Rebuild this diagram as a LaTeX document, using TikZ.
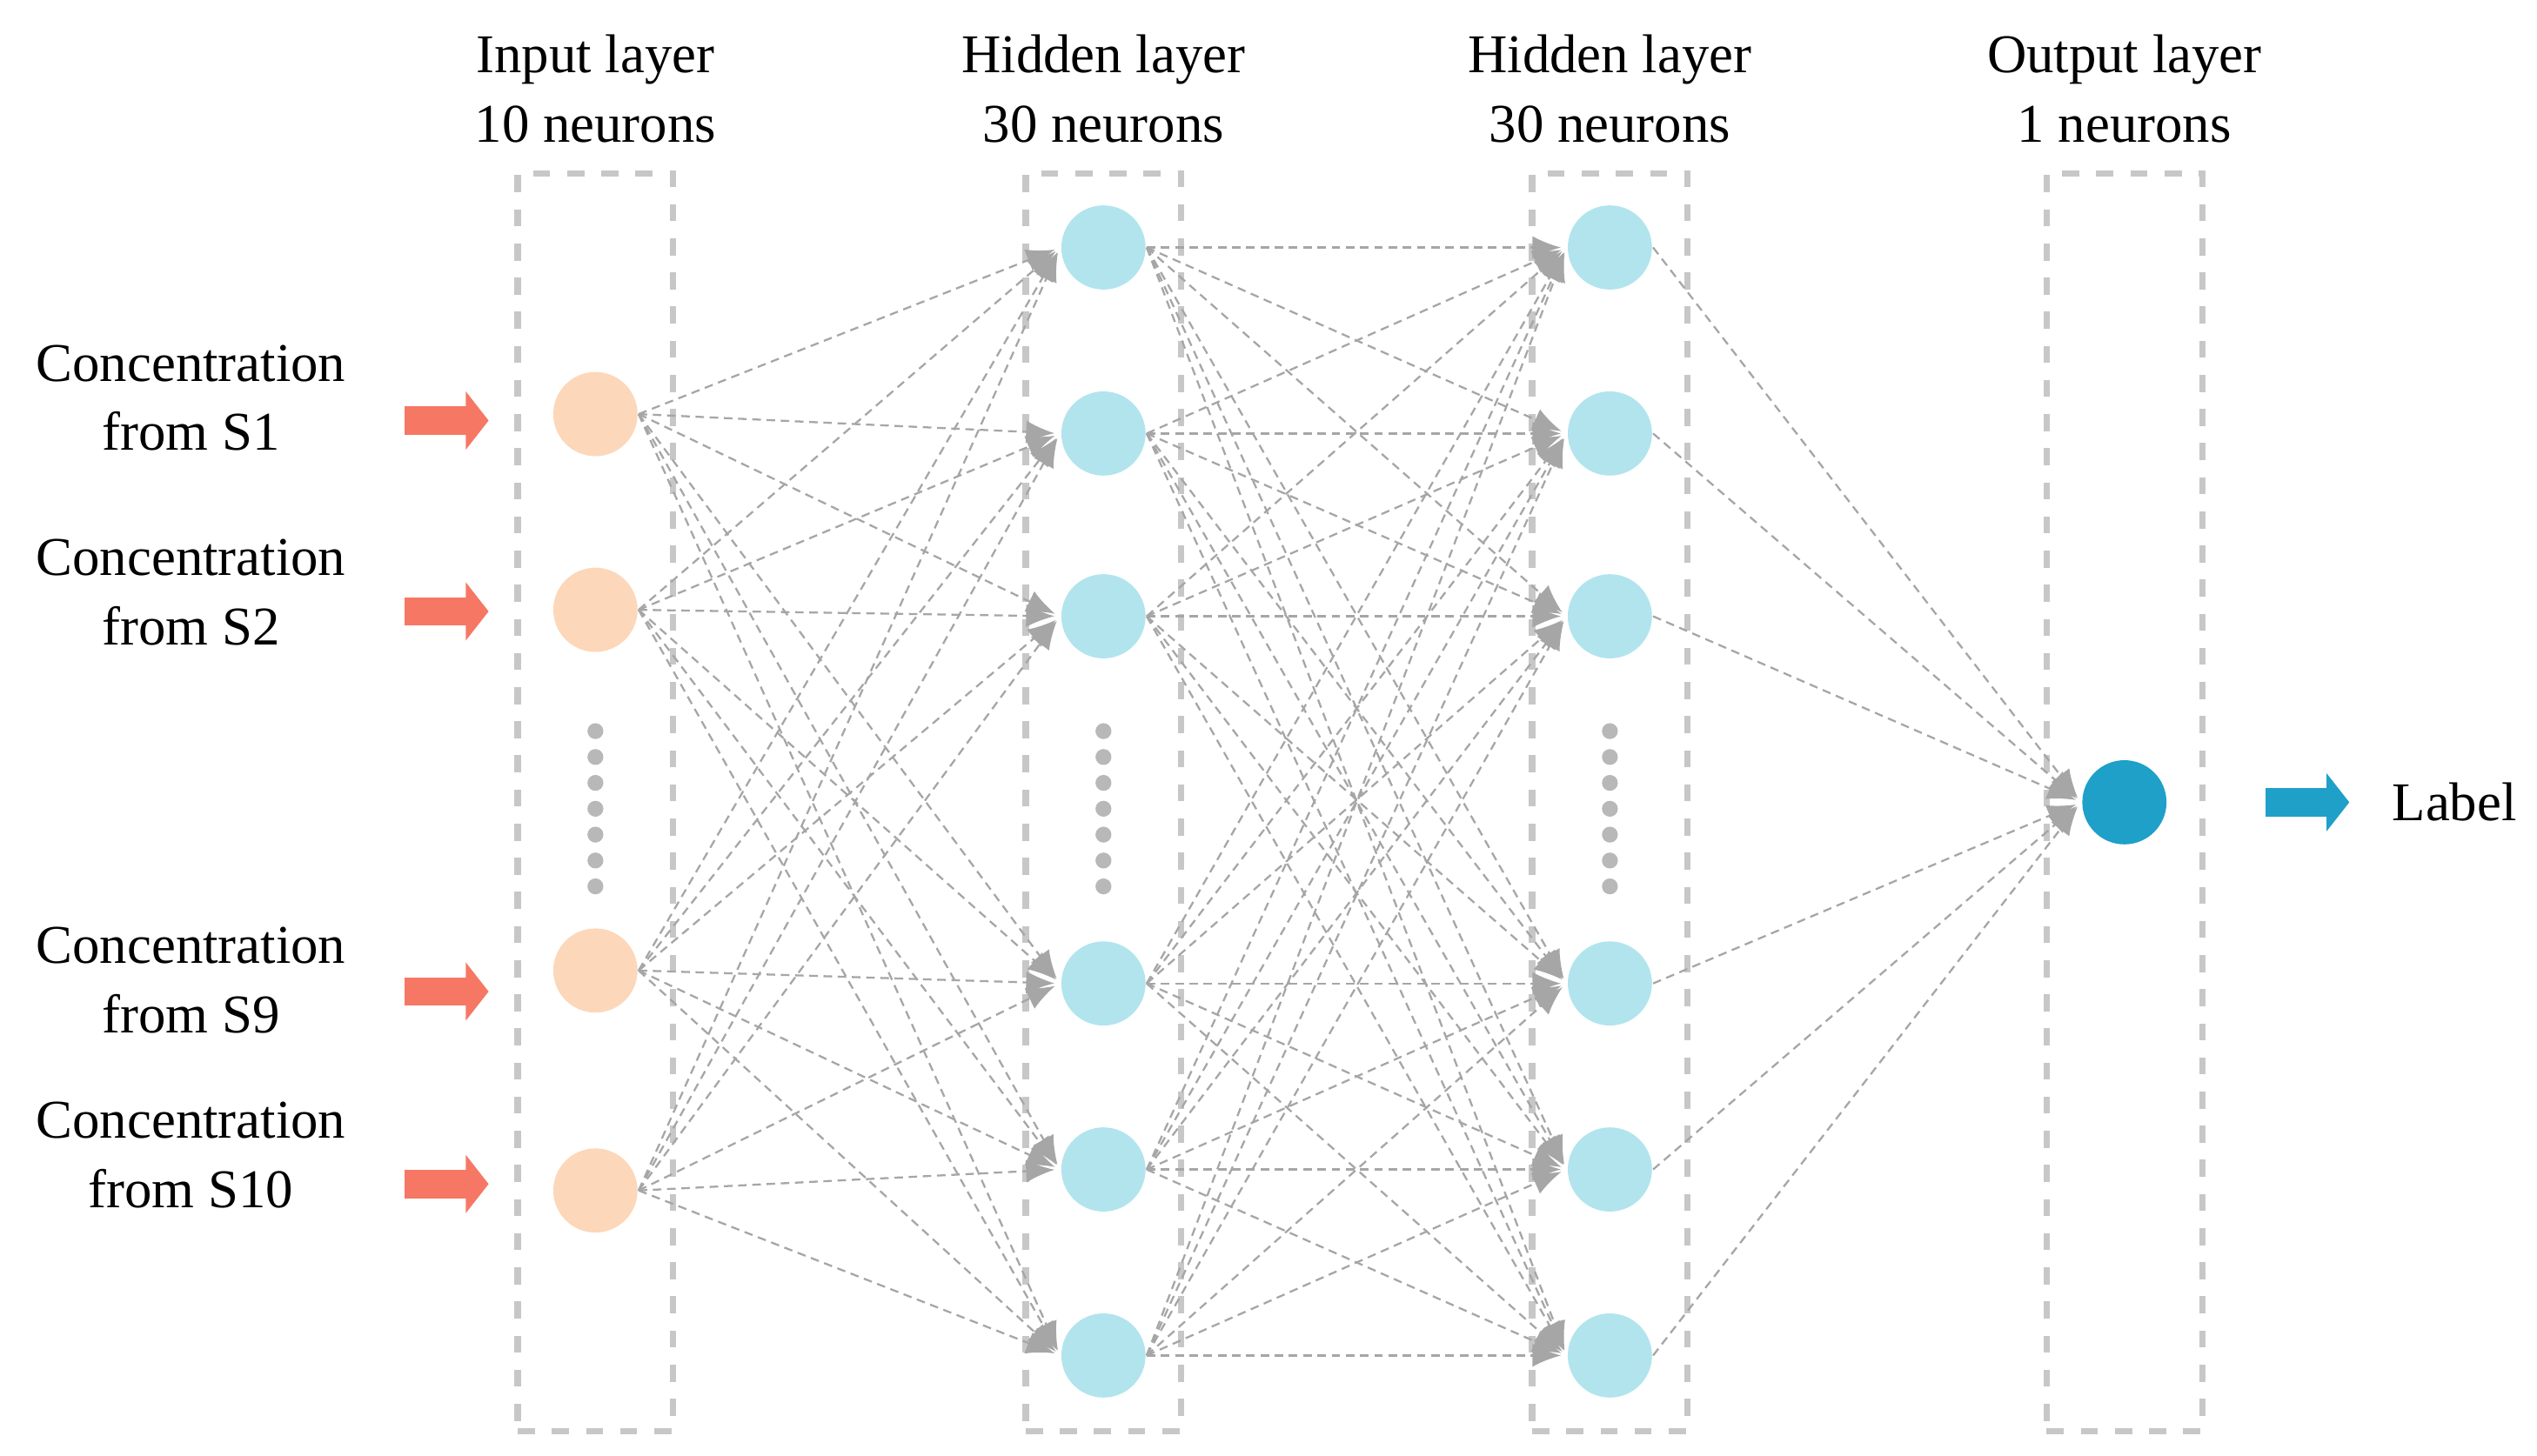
\documentclass[tikz,border=0pt]{standalone}
\usepackage{fontspec}
\setmainfont{Liberation Serif}
\usetikzlibrary{positioning, arrows.meta}
\definecolor{inorange}{RGB}{252,215,185}
\definecolor{hidblue}{RGB}{178,228,238}
\definecolor{outblue}{RGB}{30,160,200}
\definecolor{arrred}{RGB}{246,120,100}
\tikzset{
    layerbox/.style = {draw=black!22, dashed, line width=1.1pt, minimum width=0.96cm, minimum height=7.77cm},
    neuron/.style = {circle, minimum size=0.52cm, inner sep=0pt},
    link/.style = {draw=black!35, dash pattern=on 1.5pt off 1pt, line width=0.35pt, -{Latex[length=5pt,width=4pt]}, shorten >=1pt},
    fat/.style = {-{Triangle[length=4pt,width=10pt]}, line width=5pt}
}
\begin{document}
\begin{tikzpicture}[x=0.01cm, y=-0.01cm, font=\fontsize{9.6}{12.2}\selectfont]
        \useasboundingbox (0,0) rectangle (1568,900);
        % layer boxes and titles
        \foreach \nm/\xx/\ta/\tb in {in/368/Input layer/10 neurons, ha/682/Hidden layer/30 neurons, hb/995/Hidden layer/30 neurons, out/1313/Output layer/1 neurons}{
            \node[layerbox] (box\nm) at (\xx,496) {};
            \node[align=center] (title\nm) at (\xx,55) {\ta\\\tb};
        }

        % input neurons
        \foreach \i/\yy in {1/256, 2/377, 3/600, 4/736}
            \node[neuron, fill=inorange] (in\i) at (368,\yy) {};
        % hidden neurons
        \foreach \i/\yy in {1/153, 2/268, 3/381, 4/608, 5/723, 6/838}{
            \node[neuron, fill=hidblue] (ha\i) at (682,\yy) {};
            \node[neuron, fill=hidblue] (hb\i) at (995,\yy) {};
        }
        % output neuron
        \node[neuron, fill=outblue] (out1) at (1313,496) {};

        % vertical dots
        \foreach \xx in {368, 682, 995}
            \foreach \yy in {452, 468, ..., 548}
                \fill[black!28] (\xx,\yy) circle (1.4pt);

        % connections
        \foreach \i in {1,...,4}
            \foreach \j in {1,...,6}
                \draw[link] (in\i.east) -- (ha\j.west);
        \foreach \i in {1,...,6}
            \foreach \j in {1,...,6}
                \draw[link] (ha\i.east) -- (hb\j.west);
        \foreach \i in {1,...,6}
            \draw[link] (hb\i.east) -- (out1.west);

        % inputs
        \foreach \i/\yy/\ay/\s in {1/246/260/S1, 2/366/378/S2, 3/606/613/S9, 4/714/732/S10}{
            \node[align=center] (lab\i) at (118,\yy) {Concentration\\from \s};
            \coordinate (tail\i) at (250,\ay);
            \coordinate (head\i) at (302,\ay);
            \draw[fat, arrred] (tail\i) -- (head\i);
        }

        % output
        \coordinate (otail) at (1400,496);
        \coordinate (ohead) at (1452,496);
        \node (lab) at (1517,496) {Label};
        \draw[fat, outblue] (otail) -- (ohead);
\end{tikzpicture}
\end{document}
